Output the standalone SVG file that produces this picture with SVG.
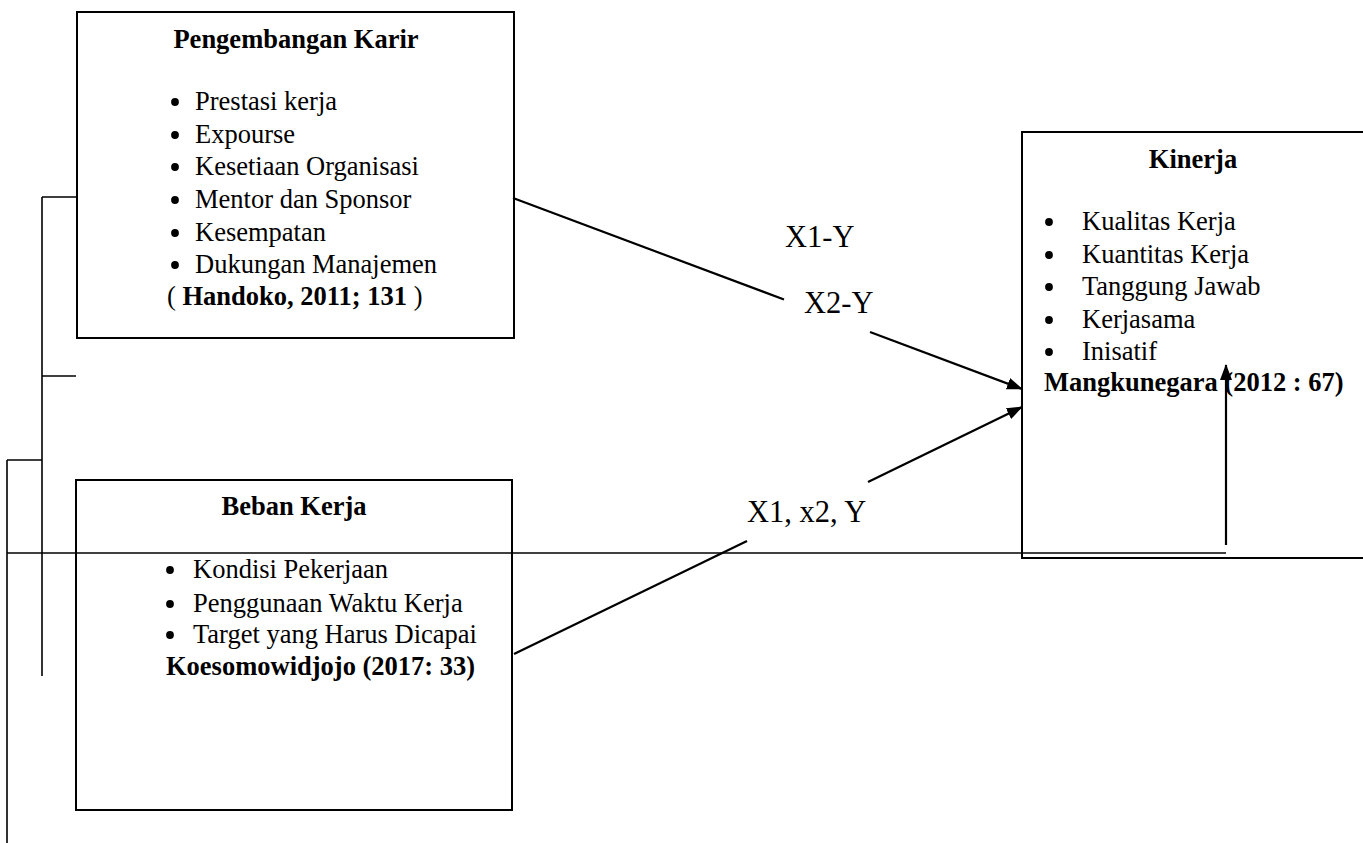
<svg xmlns="http://www.w3.org/2000/svg" width="1363" height="843" viewBox="0 0 1363 843">
<defs>
<style>
.box{fill:#fff;stroke:#000;stroke-width:2}
.ln{fill:none;stroke:#000;stroke-width:2.2}
.br{fill:none;stroke:#000;stroke-width:1.6}
.t{font-family:"Liberation Serif","Times New Roman",serif;font-size:26.5px;fill:#000}
.b{font-weight:bold}
.lbl{font-family:"Liberation Serif","Times New Roman",serif;font-size:30.5px;fill:#000}
.dot{fill:#000}
</style>
<marker id="ah" viewBox="0 0 16 12" refX="15" refY="6" markerWidth="16" markerHeight="12" markerUnits="userSpaceOnUse" orient="auto">
<path d="M0,0 L16,6 L0,12 z" fill="#000"/>
</marker>
</defs>
<rect width="1363" height="843" fill="#fff"/>

<g id="node-pengembangan">
<rect class="box" x="77" y="12" width="437" height="326"/>
<text class="t b" x="296" y="48" text-anchor="middle">Pengembangan Karir</text>
<circle class="dot" cx="175" cy="102" r="3.9"/><text class="t" x="195" y="110">Prestasi kerja</text>
<circle class="dot" cx="175" cy="135" r="3.9"/><text class="t" x="195" y="143">Expourse</text>
<circle class="dot" cx="175" cy="167" r="3.9"/><text class="t" x="195" y="175">Kesetiaan Organisasi</text>
<circle class="dot" cx="175" cy="200" r="3.9"/><text class="t" x="195" y="208">Mentor dan Sponsor</text>
<circle class="dot" cx="175" cy="233" r="3.9"/><text class="t" x="195" y="241">Kesempatan</text>
<circle class="dot" cx="175" cy="265" r="3.9"/><text class="t" x="195" y="273">Dukungan Manajemen</text>
<text class="t" x="167" y="305">( <tspan class="b">Handoko, 2011; 131</tspan> )</text>
</g>

<g id="node-beban">
<rect class="box" x="76" y="480" width="436" height="330"/>
<text class="t b" x="294" y="515" text-anchor="middle">Beban Kerja</text>
<circle class="dot" cx="170" cy="570" r="3.9"/><text class="t" x="193" y="578">Kondisi Pekerjaan</text>
<circle class="dot" cx="170" cy="604" r="3.9"/><text class="t" x="193" y="612">Penggunaan Waktu Kerja</text>
<circle class="dot" cx="170" cy="635" r="3.9"/><text class="t" x="193" y="643">Target yang Harus Dicapai</text>
<text class="t b" x="166" y="675">Koesomowidjojo (2017: 33)</text>
</g>

<g id="node-kinerja">
<rect class="box" x="1022" y="132" width="360" height="426"/>
<text class="t b" x="1193" y="168" text-anchor="middle">Kinerja</text>
<circle class="dot" cx="1049" cy="222" r="3.9"/><text class="t" x="1082" y="230">Kualitas Kerja</text>
<circle class="dot" cx="1049" cy="255" r="3.9"/><text class="t" x="1082" y="263">Kuantitas Kerja</text>
<circle class="dot" cx="1049" cy="287" r="3.9"/><text class="t" x="1082" y="295">Tanggung Jawab</text>
<circle class="dot" cx="1049" cy="320" r="3.9"/><text class="t" x="1082" y="328">Kerjasama</text>
<circle class="dot" cx="1049" cy="352" r="3.9"/><text class="t" x="1082" y="360">Inisatif</text>
<text class="t b" x="1044" y="391">Mangkunegara (2012 : 67)</text>
</g>

<g id="connectors">
<path class="br" d="M42,197 H77 M42,197 V676 M42,376 H76 M7,460 H42 M7,460 V843"/>
<path class="br" d="M7,553 H1226"/>
<path class="ln" d="M513,198 L784,299.5"/>
<path class="ln" d="M870,332 L1022,389" marker-end="url(#ah)"/>
<path class="ln" d="M514,654 L747,541"/>
<path class="ln" d="M868,482 L1022,407" marker-end="url(#ah)"/>
<path class="ln" d="M1226,545 V365" marker-end="url(#ah)"/>
</g>

<g id="labels">
<text class="lbl" x="785" y="247">X1-Y</text>
<text class="lbl" x="804" y="313">X2-Y</text>
<text class="lbl" x="747" y="522">X1, x2, Y</text>
</g>
</svg>
